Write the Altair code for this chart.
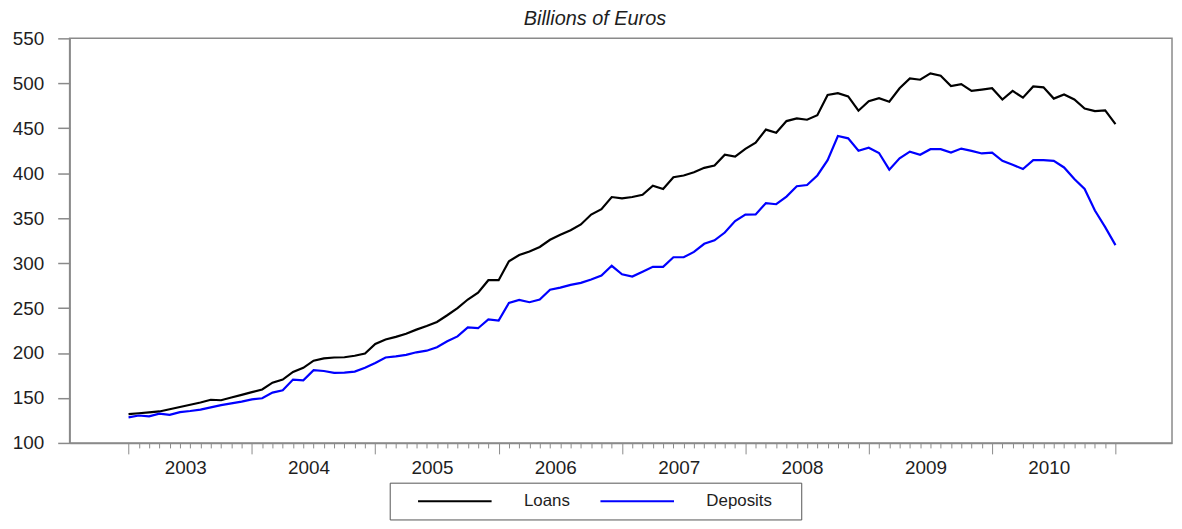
import json
import altair as alt
import pandas as pd

# month index: 0 = start of 2003 ... 96 = end of 2010
months = list(range(97))

loans = [132, 133, 134, 135, 137.5, 140, 142.5, 145, 148, 147.5,
         150.5, 153.5, 156.5, 159.5, 167, 170.5, 179, 183.5, 191.5, 194,
         195, 195.3, 197, 199.5, 210, 215, 218, 221.5, 226, 230,
         234.5, 242, 250, 259.5, 267, 281, 281, 302, 309, 313,
         318, 326, 331.5, 336.5, 343, 354, 360, 373.5, 372, 373.5,
         376, 386, 382.5, 395.5, 397.5, 401, 406, 408.5, 420.5, 418.5,
         427, 434, 448.5, 445, 458, 461, 459.5, 464.5, 487, 489,
         485.5, 469.5, 480, 483.5, 479.5, 494.5, 505.5, 504, 511, 508.5,
         497, 499, 491.5, 493, 494.5, 482, 491.5, 484, 496.5, 495.5,
         483, 487.5, 482, 472, 469, 469.8, 454.5]

deposits = [128.5, 130.5, 129.5, 132.5, 131.2, 134.3, 135.5, 137, 139.5, 142,
            144, 146, 148.5, 149.7, 156, 158.5, 170.5, 169.7, 181, 180,
            178, 178.3, 179.3, 183.5, 189, 195, 196.3, 198, 200.8, 202.6,
            206.5, 213, 218.5, 228.6, 227.6, 237.5, 236.2, 255.8, 259, 256.5,
            259.5, 270.5, 272.8, 275.8, 278, 281.7, 286.2, 297, 287.5, 285,
            290.4, 295.9, 295.9, 306.5, 306.5, 312.5, 321.5, 325.4, 334, 346.8,
            354, 354.1, 366.8, 365.5, 374, 385.5, 386.9, 397.5, 414.5, 441.4,
            438.8, 425, 428.3, 422.5, 404, 416.5, 424, 420.5, 426.7, 426.7,
            422.9, 427.4, 424.9, 422, 422.9, 413.8, 409.3, 404.7, 414.5, 414.5,
            413.8, 406.4, 393.5, 382.5, 358.5, 340, 320]

series_names = ["Loans", "Deposits"]
series_colors = ["#000000", "#0000ff"]
year_labels = ["2003", "2004", "2005", "2006", "2007", "2008", "2009", "2010"]
y_ticks = [100, 150, 200, 250, 300, 350, 400, 450, 500, 550]

df = pd.DataFrame({
    "month": months + months,
    "value": loans + deposits,
    "series": [series_names[0]] * len(loans) + [series_names[1]] * len(deposits),
})

FONT = "Liberation Sans"
AXIS_GREY = "#8a8a8a"
TEXT = "#1e1e1e"

label_expr = ("datum.value % 12 === 6 && datum.value < 96 ? "
              + json.dumps(year_labels) + "[floor(datum.value / 12)] : ''")

nb = "\u00a0"
zw = "\u200b"
legend_label_expr = ("datum.value === 'Deposits' ? datum.label + '" + nb * 4 + zw + "' : datum.label")

chart = alt.Chart(df).mark_line(strokeWidth=2.2).encode(
    x=alt.X("month:Q",
            scale=alt.Scale(domain=[-5.73, 101.5], nice=False, zero=False),
            axis=alt.Axis(values=months, title=None, grid=False,
                          labelExpr=label_expr, labelOverlap=False, labelBound=False,
                          labelFlush=False,
                          labelOffset=-5, labelPadding=11,
                          labelFont=FONT, labelFontSize=19, labelColor=TEXT,
                          tickSize={"condition": {"test": "datum.value % 12 === 0", "value": 11}, "value": 5},
                          tickColor=AXIS_GREY, tickWidth=1,
                          domainColor=AXIS_GREY, domainWidth=1.5)),
    y=alt.Y("value:Q",
            scale=alt.Scale(domain=[100, 550], nice=False, zero=False),
            axis=alt.Axis(values=y_ticks, title=None, grid=False,
                          tickSize=12, tickColor=AXIS_GREY, tickWidth=1.5,
                          labelPadding=14, labelFont=FONT, labelFontSize=19,
                          labelColor=TEXT, domainColor=AXIS_GREY, domainWidth=1.5)),
    color=alt.Color("series:N",
                    scale=alt.Scale(domain=series_names, range=series_colors),
                    legend=alt.Legend(orient="none", legendX=322, legendY=447,
                                      direction="horizontal",
                                      title=nb, titleOrient="left", titlePadding=17,
                                      titleFontSize=10,
                                      symbolType="M-6,0H6", symbolSize=152.1,
                                      symbolStrokeWidth=2, symbolOffset=30,
                                      labelOffset=61, columnPadding=25.5,
                                      labelFont=FONT, labelFontSize=17, labelColor=TEXT,
                                      labelExpr=legend_label_expr,
                                      padding=10, strokeColor="#555555",
                                      fillColor="#ffffff")),
).properties(
    width=1109,
    height=407,
    title=alt.TitleParams("Billions of Euros", font=FONT, fontSize=20,
                          fontStyle="italic", fontWeight="normal", color=TEXT,
                          anchor="middle", dx=-26, offset=0),
    autosize=alt.AutoSizeParams(type="none"),
    padding={"left": 62, "top": 29, "right": 2, "bottom": 77},
).configure_view(
    stroke=AXIS_GREY, strokeWidth=1.5
)

chart.save("out.html", embed_options={"renderer": "svg", "actions": False})
